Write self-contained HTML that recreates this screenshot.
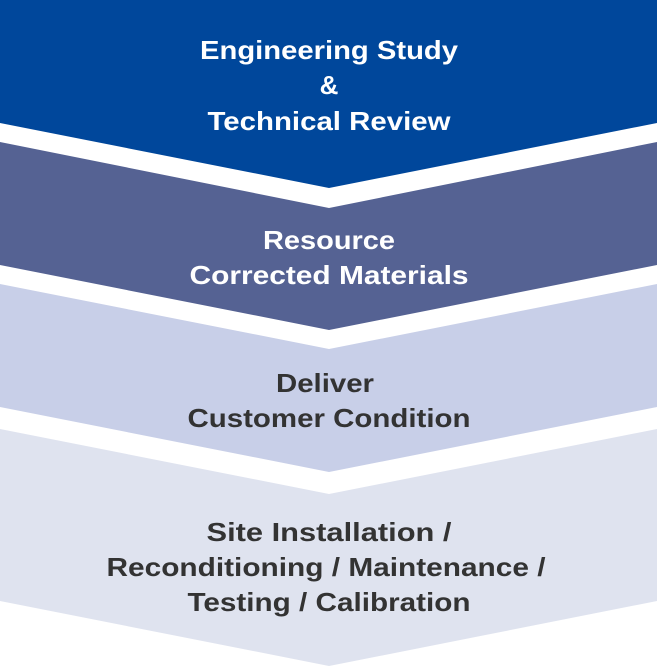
<!DOCTYPE html>
<html><head><meta charset="utf-8"><style>
html,body{margin:0;padding:0;background:#fff;}
svg{display:block;}
text{font-family:"Liberation Sans",sans-serif;font-weight:bold;font-size:26px;text-anchor:middle;}
</style></head><body>
<svg width="657" height="667" viewBox="0 0 657 667" xmlns="http://www.w3.org/2000/svg">
<polygon points="0,0 657,0 657,123 329,188 0,123" fill="#00479b"/>
<polygon points="0,142 329,208 657,142 657,265 329,330 0,265" fill="#556293"/>
<polygon points="0,284 329,349 657,284 657,407 329,472 0,407" fill="#c8cfe8"/>
<polygon points="0,429 329,494 657,429 657,601 329,666 0,601" fill="#dfe3ef"/>
<g fill="#fff">
<text x="329" y="59" textLength="258" lengthAdjust="spacingAndGlyphs">Engineering Study</text>
<text x="329" y="94">&amp;</text>
<text x="329" y="130" textLength="243" lengthAdjust="spacingAndGlyphs">Technical Review</text>
<text x="329" y="249" textLength="132" lengthAdjust="spacingAndGlyphs">Resource</text>
<text x="329" y="284" textLength="279" lengthAdjust="spacingAndGlyphs">Corrected Materials</text>
</g>
<g fill="#333">
<text x="325" y="392" textLength="98" lengthAdjust="spacingAndGlyphs">Deliver</text>
<text x="329" y="427" textLength="283" lengthAdjust="spacingAndGlyphs">Customer Condition</text>
<text x="329" y="541" textLength="245" lengthAdjust="spacingAndGlyphs">Site Installation /</text>
<text x="326" y="576" textLength="439" lengthAdjust="spacingAndGlyphs">Reconditioning / Maintenance /</text>
<text x="329" y="611" textLength="283" lengthAdjust="spacingAndGlyphs">Testing / Calibration</text>
</g>
</svg>
</body></html>
